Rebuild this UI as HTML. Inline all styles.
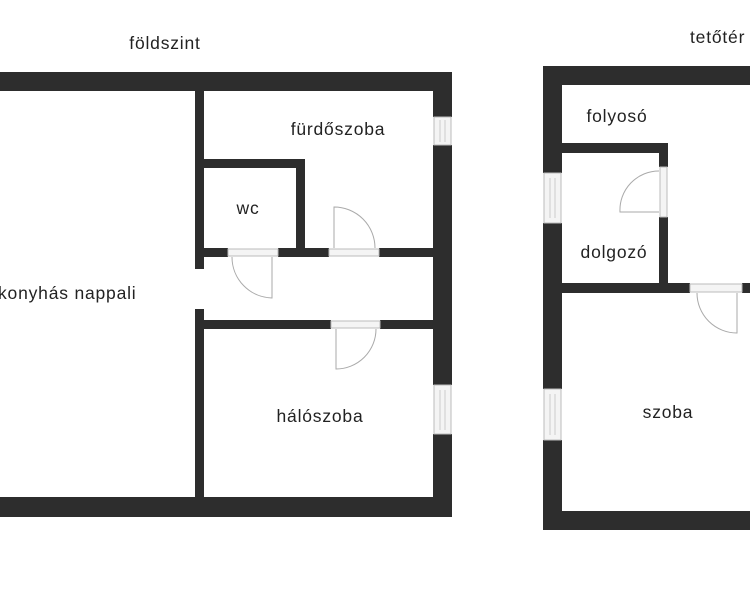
<!DOCTYPE html>
<html><head><meta charset="utf-8"><style>
html,body{margin:0;padding:0;background:#fff;width:750px;height:592px;overflow:hidden}
svg{display:block}
text{font-family:"Liberation Sans",sans-serif;font-size:17.5px;letter-spacing:0.8px;fill:#222}
</style></head><body>
<svg width="750" height="592" viewBox="0 0 750 592">
<g fill="#2d2d2d">
<rect x="-10" y="72" width="462" height="19"/>
<rect x="433" y="72" width="19" height="45"/>
<rect x="433" y="145" width="19" height="240"/>
<rect x="433" y="434" width="19" height="83"/>
<rect x="-10" y="497" width="462" height="20"/>
<rect x="195" y="91" width="9" height="178"/>
<rect x="195" y="309" width="9" height="188"/>
<rect x="204" y="159" width="101" height="9"/>
<rect x="296" y="159" width="9" height="98"/>
<rect x="204" y="248" width="24" height="9"/>
<rect x="278" y="248" width="51" height="9"/>
<rect x="379" y="248" width="54" height="9"/>
<rect x="204" y="320" width="127" height="9"/>
<rect x="380" y="320" width="53" height="9"/>
<rect x="543" y="66" width="220" height="19"/>
<rect x="543" y="66" width="19" height="107"/>
<rect x="543" y="223" width="19" height="166"/>
<rect x="543" y="440" width="19" height="90"/>
<rect x="543" y="511" width="220" height="19"/>
<rect x="562" y="143" width="106" height="10"/>
<rect x="659" y="143" width="9" height="24"/>
<rect x="659" y="217" width="9" height="76"/>
<rect x="562" y="283" width="128" height="10"/>
<rect x="742" y="283" width="20" height="10"/>
</g>
<g fill="#f4f4f4" stroke="#bbb" stroke-width="1">
<rect x="434" y="117" width="17" height="28"/>
<rect x="434" y="385" width="17" height="49"/>
<rect x="544" y="173" width="17" height="50"/>
<rect x="544" y="389" width="17" height="51"/>
<rect x="228" y="249" width="50" height="7"/>
<rect x="329" y="249" width="50" height="7"/>
<rect x="331" y="321" width="49" height="7"/>
<rect x="660" y="167" width="7" height="50"/>
<rect x="690" y="284" width="52" height="8"/>
</g>
<g stroke="#ccc" stroke-width="1">
<line x1="440" y1="120" x2="440" y2="142"/><line x1="445" y1="120" x2="445" y2="142"/>
<line x1="440" y1="390" x2="440" y2="430"/><line x1="445" y1="390" x2="445" y2="430"/>
<line x1="550" y1="178" x2="550" y2="218"/><line x1="555" y1="178" x2="555" y2="218"/>
<line x1="550" y1="394" x2="550" y2="435"/><line x1="555" y1="394" x2="555" y2="435"/>
</g>
<g fill="none" stroke="#aaa" stroke-width="1">
<path d="M272 257 V298 A41 41 0 0 1 232 257"/>
<path d="M334 248 V207 A41 41 0 0 1 375 248"/>
<path d="M336 329 V369 A40 40 0 0 0 376 329"/>
<path d="M659 212 H620 A39 39 0 0 1 659 171"/>
<path d="M737 293 V333 A40 40 0 0 1 697 293"/>
</g>
<text x="165" y="49" text-anchor="middle">földszint</text>
<text x="338" y="135" text-anchor="middle">fürdőszoba</text>
<text x="248" y="214" text-anchor="middle">wc</text>
<text x="-2" y="299">konyhás nappali</text>
<text x="320" y="422" text-anchor="middle">hálószoba</text>
<text x="690" y="43">tetőtér</text>
<text x="617" y="122" text-anchor="middle">folyosó</text>
<text x="614" y="258" text-anchor="middle">dolgozó</text>
<text x="668" y="418" text-anchor="middle">szoba</text>
</svg>
</body></html>
